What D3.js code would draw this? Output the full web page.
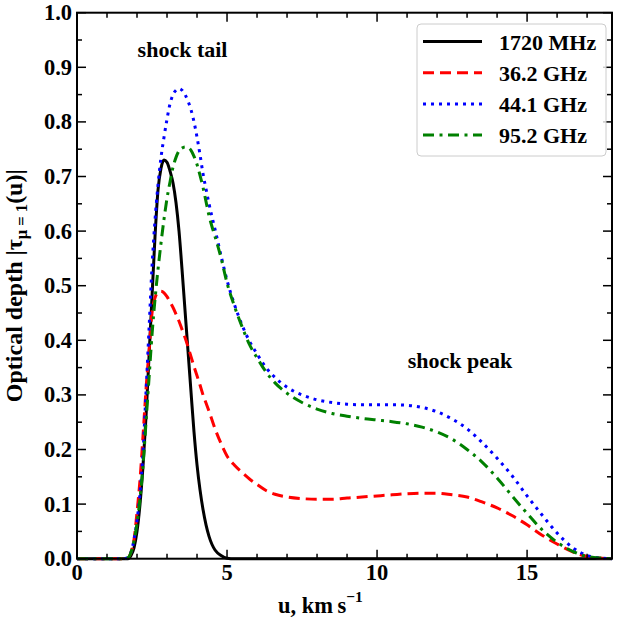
<!doctype html>
<html lang="en">
<head>
  <meta charset="utf-8">
  <title>Optical depth vs u</title>
  <script src="https://d3js.org/d3.v7.min.js"></script>
<style>
body { margin: 0; background: white; }
svg text {
  font-family: "Liberation Serif", "Times New Roman", serif;
  font-weight: bold;
  fill: black;
}
</style>
</head>
<body>
<div class="chart"></div>
<script>

  // velocity grid (km/s), shared by all four curves
  const u = [0, 1.5, 1.7, 1.8, 1.9, 2.0, 2.1, 2.2, 2.3, 2.4, 2.5, 2.6, 2.7, 2.8, 2.9,
    3.0, 3.1, 3.2, 3.3, 3.4, 3.5, 3.6, 3.7, 3.8, 3.9, 4.0, 4.1, 4.2, 4.3, 4.4, 4.5, 4.6, 4.8, 5.0,
    5.25, 5.5, 5.75, 6.0, 6.3, 6.6, 7.0, 7.5, 8.0, 8.5, 9.0, 9.5, 10.0, 10.5, 11.0,
    11.5, 12.0, 12.5, 13.0, 13.5, 14.0, 14.5, 15.0, 15.5, 16.0, 16.5, 17.0, 17.5, 17.83];

  // optical depth
  const tau1720 = [0, 0, 0, 0.006, 0.02, 0.05, 0.1, 0.17, 0.26, 0.37, 0.48, 0.59, 0.675, 0.715, 0.73,
    0.726, 0.71, 0.688, 0.652, 0.6, 0.53, 0.455, 0.38, 0.305, 0.232, 0.172, 0.126, 0.09, 0.062, 0.041, 0.026, 0.016, 0.006, 0.001,
    0, 0, 0, 0, 0, 0, 0, 0, 0, 0, 0, 0, 0, 0, 0,
    0, 0, 0, 0, 0, 0, 0, 0, 0, 0, 0, 0, 0, 0];

  const tau362 = [0, 0, 0.002, 0.012, 0.035, 0.085, 0.145, 0.225, 0.31, 0.38, 0.45, 0.478, 0.488, 0.49, 0.487,
    0.48, 0.47, 0.46, 0.448, 0.435, 0.42, 0.405, 0.388, 0.37, 0.352, 0.335, 0.318, 0.3, 0.285, 0.27, 0.254, 0.238, 0.211, 0.188,
    0.171, 0.158, 0.146, 0.136, 0.125, 0.118, 0.113, 0.11, 0.109, 0.109, 0.111, 0.113, 0.115, 0.117, 0.119,
    0.12, 0.12, 0.117, 0.113, 0.104, 0.093, 0.079, 0.062, 0.043, 0.027, 0.013, 0.004, 0.001, 0];

  const tau441 = [0, 0, 0.002, 0.012, 0.035, 0.07, 0.12, 0.195, 0.305, 0.42, 0.535, 0.62, 0.685, 0.735, 0.772,
    0.805, 0.833, 0.85, 0.858, 0.861, 0.858, 0.85, 0.838, 0.822, 0.8, 0.772, 0.74, 0.705, 0.677, 0.65, 0.626, 0.603, 0.555, 0.51,
    0.465, 0.428, 0.398, 0.375, 0.35, 0.332, 0.314, 0.3, 0.291, 0.286, 0.283, 0.282, 0.282, 0.282, 0.281,
    0.277, 0.269, 0.256, 0.238, 0.213, 0.184, 0.152, 0.115, 0.08, 0.047, 0.021, 0.006, 0.001, 0];

  const tau952 = [0, 0, 0.002, 0.012, 0.033, 0.065, 0.11, 0.17, 0.25, 0.33, 0.41, 0.475, 0.53, 0.578, 0.622,
    0.66, 0.69, 0.717, 0.735, 0.747, 0.752, 0.754, 0.753, 0.748, 0.737, 0.722, 0.702, 0.68, 0.654, 0.628, 0.608, 0.59, 0.551, 0.505,
    0.462, 0.425, 0.392, 0.368, 0.342, 0.322, 0.303, 0.286, 0.274, 0.266, 0.261, 0.257, 0.254, 0.251, 0.247,
    0.241, 0.232, 0.219, 0.2, 0.177, 0.148, 0.115, 0.083, 0.053, 0.03, 0.014, 0.004, 0.001, 0];

  const seriesNames = ['1720 MHz', '36.2 GHz', '44.1 GHz', '95.2 GHz'];
  const seriesValues = [tau1720, tau362, tau441, tau952];
  const seriesColors = ['#000000', '#ff0000', '#0000ff', '#008000'];
  const seriesDashes = [null, '11,6', '3,5', '11,5.5,3,5.5'];

  const xTicks = [0, 5, 10, 15];
  const yTicks = [0, 0.1, 0.2, 0.3, 0.4, 0.5, 0.6, 0.7, 0.8, 0.9, 1.0];

  let w = 617, h = 621;
  let margin = {left: 77, right: 5, top: 12.7, bottom: 62.3};

  let svg = d3.select('.chart').append('svg')
    .attr('width', w)
    .attr('height', h);

  let x = d3.scaleLinear().domain([0, 17.83]).range([margin.left, w - margin.right]);
  let y = d3.scaleLinear().domain([0, 1]).range([h - margin.bottom, margin.top]);

  // curves
  let line = d3.line()
    .x(d => x(d[0]))
    .y(d => y(d[1]))
    .curve(d3.curveMonotoneX);

  let curves = svg.append('g');
  seriesValues.forEach(function(vals, i) {
    curves.append('path')
      .datum(u.map((v, j) => [v, vals[j]]))
      .attr('d', line)
      .attr('fill', 'none')
      .attr('stroke', seriesColors[i])
      .attr('stroke-width', 3)
      .attr('stroke-dasharray', seriesDashes[i]);
  });

  // ticks on all four sides, pointing inward
  let xMinor = d3.range(0, 18, 1).filter(v => v % 5 !== 0);
  let yMinor = d3.range(0.05, 1, 0.1);

  let axes = svg.append('g').attr('stroke', 'black').attr('stroke-width', 1.5);
  function xTick(v, len) {
    axes.append('line').attr('x1', x(v)).attr('x2', x(v))
      .attr('y1', y(0)).attr('y2', y(0) - len);
    axes.append('line').attr('x1', x(v)).attr('x2', x(v))
      .attr('y1', y(1)).attr('y2', y(1) + len);
  }
  function yTick(v, len) {
    axes.append('line').attr('y1', y(v)).attr('y2', y(v))
      .attr('x1', x.range()[0]).attr('x2', x.range()[0] + len);
    axes.append('line').attr('y1', y(v)).attr('y2', y(v))
      .attr('x1', x.range()[1]).attr('x2', x.range()[1] - len);
  }
  xTicks.forEach(v => xTick(v, 9));
  xMinor.forEach(v => xTick(v, 5));
  yTicks.forEach(v => yTick(v, 9));
  yMinor.forEach(v => yTick(v, 5));

  svg.append('rect')
    .attr('x', x.range()[0]).attr('y', y(1))
    .attr('width', x.range()[1] - x.range()[0])
    .attr('height', y(0) - y(1))
    .attr('fill', 'none')
    .attr('stroke', 'black')
    .attr('stroke-width', 2);

  // tick labels
  svg.append('g').selectAll('text')
    .data(xTicks).enter().append('text')
    .attr('x', d => x(d))
    .attr('y', y(0) + 21)
    .attr('text-anchor', 'middle')
    .attr('font-size', 22.5)
    .text(d => d);

  svg.append('g').selectAll('text')
    .data(yTicks).enter().append('text')
    .attr('x', x.range()[0] - 5)
    .attr('y', d => y(d) + 7.5)
    .attr('text-anchor', 'end')
    .attr('font-size', 22.5)
    .text(d => d.toFixed(1));

  // axis labels
  let xl = svg.append('text')
    .attr('x', 278)
    .attr('y', 613)
    .attr('font-size', 22.5);
  xl.append('tspan').text('u, km\u2009s');
  xl.append('tspan').attr('dy', -11).attr('font-size', 15.5).text('\u22121');

  let yl = svg.append('text')
    .attr('transform', 'translate(22,' + ((y(0) + y(1)) / 2) + ') rotate(-90)')
    .attr('text-anchor', 'middle')
    .attr('font-size', 24);
  yl.append('tspan').text('Optical depth |\u03c4');
  yl.append('tspan').attr('dy', 5).attr('font-size', 16.5).text('\u03bc = 1');
  yl.append('tspan').attr('dy', -5).text('(u)|');

  // annotations
  svg.append('text')
    .attr('x', x(2.02)).attr('y', y(0.919))
    .attr('font-size', 22)
    .text('shock tail');
  svg.append('text')
    .attr('x', x(11.02)).attr('y', y(0.349))
    .attr('font-size', 22)
    .text('shock peak');

  // legend
  let legend = svg.append('g');
  legend.append('rect')
    .attr('x', 417).attr('y', 24)
    .attr('width', 189).attr('height', 132)
    .attr('rx', 4)
    .attr('fill', 'white')
    .attr('fill-opacity', 0.8)
    .attr('stroke', '#cccccc')
    .attr('stroke-width', 1);

  seriesNames.forEach(function(name, i) {
    let ly = 41.5 + i * 31.2;
    legend.append('line')
      .attr('x1', 423).attr('x2', 482)
      .attr('y1', ly).attr('y2', ly)
      .attr('stroke', seriesColors[i])
      .attr('stroke-width', 3)
      .attr('stroke-dasharray', seriesDashes[i]);
    legend.append('text')
      .attr('x', 499).attr('y', ly + 8)
      .attr('font-size', 22)
      .text(name);
  });

</script>
</body>
</html>
